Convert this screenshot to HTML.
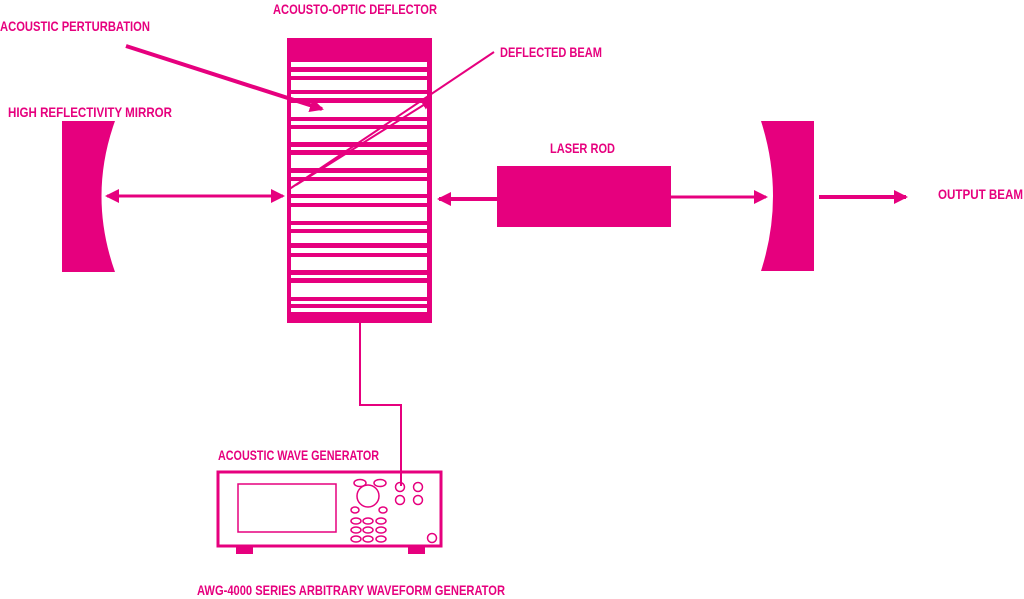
<!DOCTYPE html>
<html><head><meta charset="utf-8"><style>
body{margin:0;background:#fff;}
svg{display:block}
text{font-family:"Liberation Sans Narrow","Liberation Sans",sans-serif;font-weight:bold;font-size:14px;fill:#e6007e;}
</style></head><body>
<svg width="1024" height="599" viewBox="0 0 1024 599" xmlns="http://www.w3.org/2000/svg">
<defs>
<marker id="ah" markerWidth="10" markerHeight="10" refX="8" refY="5" orient="auto" markerUnits="userSpaceOnUse">
<path d="M0,0 L10,5 L0,10 Z" fill="#e6007e"/></marker>
<marker id="ah2" markerWidth="14" markerHeight="14" refX="12" refY="7" orient="auto-start-reverse" markerUnits="userSpaceOnUse">
<path d="M0,0 L14,7 L0,14 Z" fill="#e6007e"/></marker>
</defs>
<g fill="#e6007e" stroke="none">
<text x="0" y="31" textLength="150" lengthAdjust="spacingAndGlyphs">ACOUSTIC PERTURBATION</text>
<text x="273" y="14" textLength="164" lengthAdjust="spacingAndGlyphs">ACOUSTO-OPTIC DEFLECTOR</text>
<text x="500" y="57" textLength="102" lengthAdjust="spacingAndGlyphs">DEFLECTED BEAM</text>
<text x="8" y="117" textLength="164" lengthAdjust="spacingAndGlyphs">HIGH REFLECTIVITY MIRROR</text>
<text x="550" y="153" textLength="65" lengthAdjust="spacingAndGlyphs">LASER ROD</text>
<text x="938" y="199" textLength="85" lengthAdjust="spacingAndGlyphs">OUTPUT BEAM</text>
<text x="218" y="460" textLength="161" lengthAdjust="spacingAndGlyphs">ACOUSTIC WAVE GENERATOR</text>
<text x="197" y="595" textLength="308" lengthAdjust="spacingAndGlyphs">AWG-4000 SERIES ARBITRARY WAVEFORM GENERATOR</text>
<path d="M62,121 L115,121 Q88,196 115,272 L62,272 Z"/>
<path d="M761,121 L814,121 L814,271 L761,271 Q785,196 761,121 Z"/>
<rect x="497" y="166" width="174" height="61"/>
<rect x="287" y="38" width="145" height="285"/>
</g>
<g fill="#fff">
<rect x="291" y="62" width="136" height="5"/>
<rect x="291" y="72" width="136" height="4"/>
<rect x="291" y="80" width="136" height="10"/>
<rect x="291" y="94" width="136" height="4"/>
<rect x="291" y="103" width="136" height="14"/>
<rect x="291" y="121" width="136" height="4"/>
<rect x="291" y="129" width="136" height="13"/>
<rect x="291" y="147" width="136" height="3"/>
<rect x="291" y="155" width="136" height="13"/>
<rect x="291" y="173" width="136" height="4"/>
<rect x="291" y="181" width="136" height="13"/>
<rect x="291" y="198" width="136" height="5"/>
<rect x="291" y="207" width="136" height="14"/>
<rect x="291" y="225" width="136" height="4"/>
<rect x="291" y="233" width="136" height="10"/>
<rect x="291" y="248" width="136" height="5"/>
<rect x="291" y="257" width="136" height="13"/>
<rect x="291" y="275" width="136" height="3"/>
<rect x="291" y="283" width="136" height="14"/>
<rect x="291" y="301" width="136" height="3"/>
<rect x="291" y="308" width="136" height="4"/>
</g>
<g stroke="#e6007e" fill="none">
<line x1="126" y1="46" x2="322" y2="109" stroke-width="4" marker-end="url(#ah2)"/>
<line x1="288" y1="190" x2="494" y2="52" stroke-width="2"/>
<line x1="296" y1="185" x2="430" y2="101" stroke-width="2" marker-end="url(#ah)"/>
<line x1="107" y1="196" x2="283" y2="196" stroke-width="3" marker-start="url(#ah2)" marker-end="url(#ah2)"/>
<line x1="439" y1="199" x2="497" y2="199" stroke-width="4" marker-start="url(#ah2)"/>
<line x1="671" y1="197" x2="766" y2="197" stroke-width="3" marker-end="url(#ah2)"/>
<line x1="819" y1="197" x2="906" y2="197" stroke-width="4" marker-end="url(#ah2)"/>
<polyline points="360,323 360,405 401,405 401,486" stroke-width="2"/>
<rect x="218" y="472" width="223" height="74" stroke-width="3"/>
<rect x="238" y="484" width="98" height="48" stroke-width="1.5"/>
<g stroke-width="1.5">
<ellipse cx="360" cy="483" rx="6" ry="3.5"/><ellipse cx="380" cy="483" rx="6" ry="3.5"/>
<circle cx="368" cy="496" r="11"/>
<ellipse cx="355" cy="510" rx="4" ry="3"/><ellipse cx="383" cy="510" rx="4" ry="3"/>
<ellipse cx="356" cy="521" rx="5" ry="3"/><ellipse cx="368" cy="521" rx="5" ry="3"/><ellipse cx="381" cy="521" rx="5" ry="3"/>
<ellipse cx="356" cy="530" rx="5" ry="3"/><ellipse cx="368" cy="530" rx="5" ry="3"/><ellipse cx="381" cy="530" rx="5" ry="3"/>
<ellipse cx="356" cy="539" rx="5" ry="3"/><ellipse cx="368" cy="539" rx="5" ry="3"/><ellipse cx="381" cy="539" rx="5" ry="3"/>
<circle cx="400" cy="487" r="4.5"/><circle cx="418" cy="487" r="4.5"/>
<circle cx="400" cy="500" r="4.5"/><circle cx="418" cy="500" r="4.5"/>
<circle cx="432" cy="538" r="4.5"/>
</g>
</g>
<g fill="#e6007e">
<rect x="236" y="546" width="17" height="8"/>
<rect x="408" y="546" width="17" height="8"/>
</g>
</svg>
</body></html>
